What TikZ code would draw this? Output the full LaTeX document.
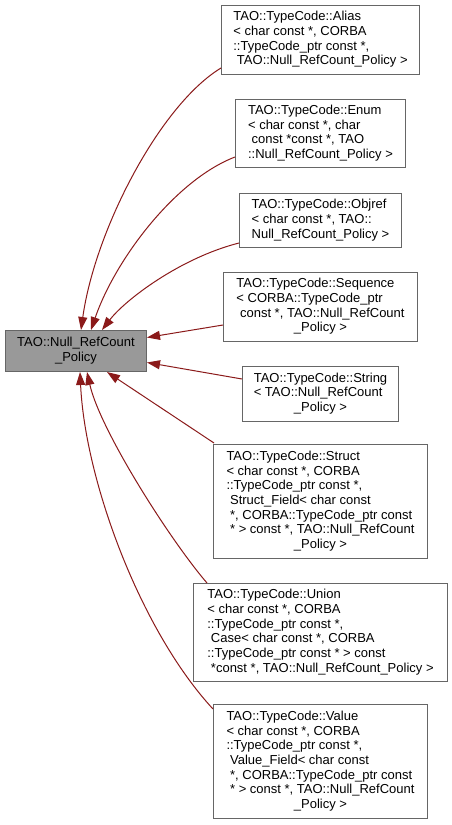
\documentclass[tikz,border=0pt]{standalone}
\usepackage{fontspec}
\setmainfont{Liberation Sans}
\usetikzlibrary{arrows.meta}
\definecolor{edgecol}{HTML}{8B1A1A}
\definecolor{boxborder}{HTML}{666666}
\definecolor{basefill}{HTML}{999999}
\newcommand{\lastln}[1]{\multicolumn{1}{@{}c@{}}{#1}}
\begin{document}
\begin{tikzpicture}[x=1pt,y=-1pt,
  cls/.style={draw=boxborder, line width=1pt, fill=white, anchor=north west,
    inner sep=0pt, font=\fontsize{13}{14.7}\selectfont, align=center},
  basecls/.style={cls, fill=basefill},
  inh/.style={draw=edgecol, line width=1pt, -{Triangle[length=13pt,width=9pt]}}]
\fill[white] (0,0) rectangle (452,825);
\useasboundingbox (0,0) rectangle (452,825);

\node[basecls, minimum width=141pt, minimum height=41pt] (base) at (5,330)
  {\begin{tabular}{@{}l@{}}TAO::Null\_RefCount\\\lastln{\_Policy}\end{tabular}};

\node[cls, minimum width=198pt, minimum height=69pt] (alias) at (221,5)
  {\begin{tabular}{@{}l@{}}TAO::TypeCode::Alias\\
  < char const *, CORBA\\
  ::TypeCode\_ptr const *,\\
  \lastln{\ TAO::Null\_RefCount\_Policy >}\end{tabular}};

\node[cls, minimum width=170pt, minimum height=68pt] (enum) at (235,99)
  {\begin{tabular}{@{}l@{}}TAO::TypeCode::Enum\\
  < char const *, char\\
  \ const *const *, TAO\\
  \lastln{::Null\_RefCount\_Policy >}\end{tabular}};

\node[cls, minimum width=162pt, minimum height=54pt] (objref) at (239,193)
  {\begin{tabular}{@{}l@{}}TAO::TypeCode::Objref\\
  < char const *, TAO::\\
  \lastln{Null\_RefCount\_Policy >}\end{tabular}};

\node[cls, minimum width=194pt, minimum height=69pt] (seq) at (223,272)
  {\begin{tabular}{@{}l@{}}TAO::TypeCode::Sequence\\
  < CORBA::TypeCode\_ptr\\
  \ const *, TAO::Null\_RefCount\\
  \lastln{\_Policy >}\end{tabular}};

\node[cls, minimum width=156pt, minimum height=55pt] (string) at (242,366)
  {\begin{tabular}{@{}l@{}}TAO::TypeCode::String\\
  < TAO::Null\_RefCount\\
  \lastln{\_Policy >}\end{tabular}};

\node[cls, minimum width=214pt, minimum height=114pt] (struct) at (213,444)
  {\begin{tabular}{@{}l@{}}TAO::TypeCode::Struct\\
  < char const *, CORBA\\
  ::TypeCode\_ptr const *,\\
  \ Struct\_Field< char const\\
  \ *, CORBA::TypeCode\_ptr const\\
  \ * > const *, TAO::Null\_RefCount\\
  \lastln{\_Policy >}\end{tabular}};

\node[cls, minimum width=254pt, minimum height=98pt] (union) at (193,583)
  {\begin{tabular}{@{}l@{}}TAO::TypeCode::Union\\
  < char const *, CORBA\\
  ::TypeCode\_ptr const *,\\
  \ Case< char const *, CORBA\\
  ::TypeCode\_ptr const * > const\\
  \lastln{\ *const *, TAO::Null\_RefCount\_Policy >}\end{tabular}};

\node[cls, minimum width=214pt, minimum height=114pt] (value) at (213,704)
  {\begin{tabular}{@{}l@{}}TAO::TypeCode::Value\\
  < char const *, CORBA\\
  ::TypeCode\_ptr const *,\\
  \ Value\_Field< char const\\
  \ *, CORBA::TypeCode\_ptr const\\
  \ * > const *, TAO::Null\_RefCount\\
  \lastln{\_Policy >}\end{tabular}};

\draw[inh] ([yshift=7pt]alias.south west) .. controls (160,105) and (95,230) .. ([xshift=76pt]base.north west);
\draw[inh] ([yshift=11pt]enum.south west) .. controls (175,180) and (115,260) .. ([xshift=86pt]base.north west);
\draw[inh] ([yshift=5pt]objref.south west) .. controls (180,258) and (125,300) .. ([xshift=97pt]base.north west);
\draw[inh] ([yshift=17pt]seq.south west) -- ([yshift=13.5pt]base.east);
\draw[inh] ([yshift=-13pt]string.north west) -- ([yshift=-11.5pt]base.east);
\draw[inh] ([xshift=1pt,yshift=1pt]struct.north west) -- ([xshift=102pt]base.south west);
\draw[inh] ([xshift=14pt]union.north west) .. controls (170,540) and (100,430) .. ([xshift=82pt]base.south west);
\draw[inh] ([yshift=-5pt]value.north west) .. controls (140,630) and (85,480) .. ([xshift=75pt]base.south west);
\end{tikzpicture}
\end{document}
